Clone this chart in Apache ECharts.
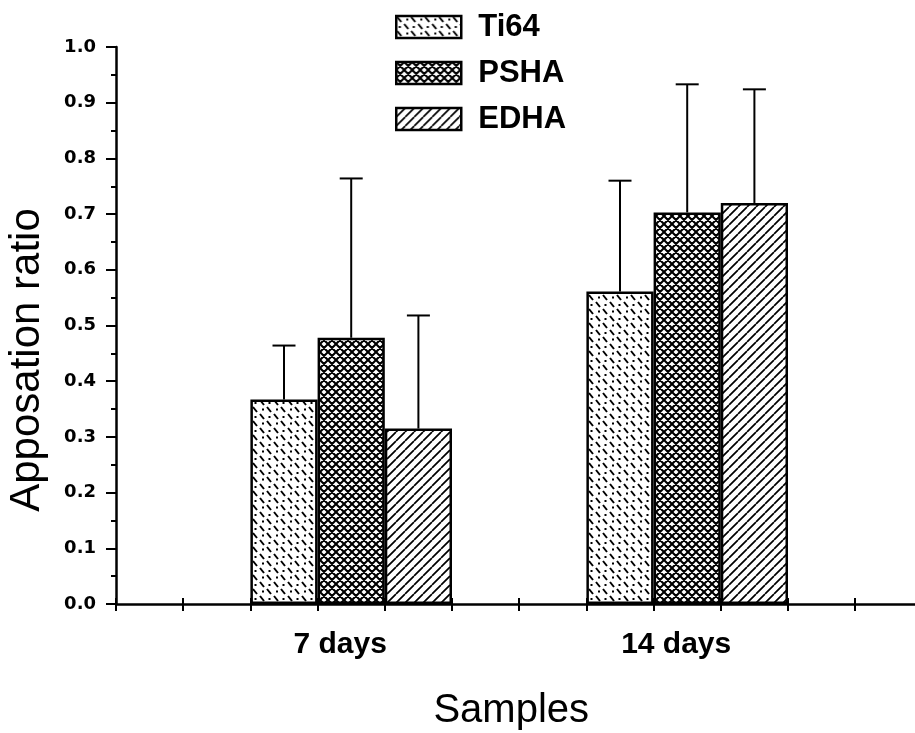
<!DOCTYPE html>
<html>
<head>
<meta charset="utf-8">
<script src="https://cdn.jsdelivr.net/npm/echarts@6/dist/echarts.min.js"></script>
<style>
  html, body { margin: 0; padding: 0; background: #fff; }
  #chart { width: 915px; height: 733px; }
</style>
</head>
<body>
<div id="chart"></div>
<script>
// Apposition ratio by implant surface, 7 and 14 days
const categories = ['7 days', '14 days'];
const seriesNames = ['Ti64', 'PSHA', 'EDHA'];
const ti64Values = [0.367, 0.561];
const ti64Errors = [0.097, 0.199];
const pshaValues = [0.478, 0.703];
const pshaErrors = [0.286, 0.230];
const edhaValues = [0.315, 0.720];
const edhaErrors = [0.203, 0.204];

const values = [ti64Values, pshaValues, edhaValues];
const errors = [ti64Errors, pshaErrors, edhaErrors];

// ---- hatch fills ----
function makeTile(size, draw) {
  const c = document.createElement('canvas');
  c.width = size; c.height = size;
  const ctx = c.getContext('2d');
  ctx.fillStyle = '#fff';
  ctx.fillRect(0, 0, size, size);
  ctx.strokeStyle = '#000';
  ctx.fillStyle = '#000';
  draw(ctx, size);
  return { image: c, repeat: 'repeat' };
}

// dashed back-slash strokes with scattered dots
const dashDot = makeTile(14, (ctx) => {
  ctx.lineWidth = 2;
  ctx.lineCap = 'butt';
  ctx.beginPath();
  ctx.moveTo(1, 1); ctx.lineTo(5, 6);
  ctx.moveTo(8, 8); ctx.lineTo(12, 13);
  ctx.stroke();
  ctx.fillRect(10, 2.5, 2, 2);
  ctx.fillRect(2.5, 10, 2, 2);
});

// diagonal cross-hatch
const crossHatch = makeTile(8, (ctx, s) => {
  ctx.lineWidth = 2.1;
  ctx.beginPath();
  for (let k = -1; k <= 1; k++) {
    ctx.moveTo(k * s, 0); ctx.lineTo(k * s + s, s);
    ctx.moveTo(k * s, s); ctx.lineTo(k * s + s, 0);
  }
  ctx.stroke();
});

// forward-slash hatch
const slashHatch = makeTile(9, (ctx, s) => {
  ctx.lineWidth = 1.7;
  ctx.beginPath();
  for (let k = -1; k <= 1; k++) {
    ctx.moveTo(k * s, s); ctx.lineTo(k * s + s, 0);
  }
  ctx.stroke();
});

const fills = [dashDot, crossHatch, slashHatch];

const chart = echarts.init(document.getElementById('chart'), null, { renderer: 'canvas' });

const BAR_GAP = 0.4; // fraction of each category band left empty

function errorBarSeries(idx) {
  return {
    type: 'custom',
    xAxisIndex: 2,
    yAxisIndex: 1,
    z: 5,
    silent: true,
    data: categories.map((c, i) => [i, values[idx][i], errors[idx][i]]),
    renderItem: function (params, api) {
      const cat = api.value(0);
      const v = api.value(1);
      const e = api.value(2);
      const band = api.size([1, 0])[0];
      const barW = band * (1 - BAR_GAP) / seriesNames.length;
      const off = (idx - (seriesNames.length - 1) / 2) * barW;
      const base = api.coord([cat, v]);
      const top = api.coord([cat, v + e]);
      const x = base[0] + off;
      const capHalf = 11.5;
      const st = { stroke: '#000', lineWidth: 2 };
      return {
        type: 'group',
        children: [
          { type: 'line', shape: { x1: x, y1: base[1], x2: x, y2: top[1] }, style: st },
          { type: 'line', shape: { x1: x - capHalf, y1: top[1], x2: x + capHalf, y2: top[1] }, style: st }
        ]
      };
    }
  };
}

const barSeries = seriesNames.map((name, i) => ({
  name: name,
  type: 'bar',
  xAxisIndex: 2,
  yAxisIndex: 1,
  data: values[i],
  barGap: '0%',
  barCategoryGap: (BAR_GAP * 100) + '%',
  itemStyle: { color: fills[i], borderColor: '#000', borderWidth: 2.5 },
  emphasis: { disabled: true }
}));

const tickFont = { fontFamily: 'DejaVu Sans', fontWeight: 'bold', fontSize: 18, color: '#000' };

const option = {
  backgroundColor: '#fff',
  animation: false,
  legend: {
    data: seriesNames,
    orient: 'vertical',
    left: 395,
    top: 9.5,
    padding: 0,
    itemWidth: 65,
    itemHeight: 22,
    itemGap: 11,
    icon: 'rect',
    itemStyle: { borderColor: '#000', borderWidth: 2.5 },
    textStyle: {
      fontFamily: 'Liberation Sans', fontWeight: 'bold', fontSize: 31,
      color: '#000', lineHeight: 31, padding: [4, 0, 0, 12]
    },
    selectedMode: false
  },
  grid: [
    { left: 116, right: -7.4, top: 47, bottom: 129, containLabel: false, outerBoundsMode: 'none' },
    { left: 183.2, width: 672, top: 47, bottom: 129, containLabel: false, outerBoundsMode: 'none' }
  ],
  xAxis: [
    {
      gridIndex: 0, type: 'value', position: 'bottom', min: 0, max: 12, interval: 1,
      axisLine: { show: true, onZero: false, lineStyle: { color: '#000', width: 2.5 } },
      axisTick: { show: true, inside: true, length: 6, lineStyle: { color: '#000', width: 2 } },
      axisLabel: { show: false },
      splitLine: { show: false },
      name: 'Samples',
      nameLocation: 'middle',
      nameGap: 87,
      nameTextStyle: { fontFamily: 'Liberation Sans', fontSize: 40, color: '#000', padding: [0, 16, 0, 0] }
    },
    {
      gridIndex: 0, type: 'value', position: 'bottom', min: 0, max: 12, interval: 1,
      axisLine: { show: false },
      axisTick: { show: true, inside: false, length: 7, lineStyle: { color: '#000', width: 2 } },
      axisLabel: { show: false },
      splitLine: { show: false }
    },
    {
      gridIndex: 1, type: 'category', position: 'bottom', data: categories,
      axisLine: { show: false },
      axisTick: { show: false },
      axisLabel: {
        margin: 26,
        fontFamily: 'Liberation Sans', fontWeight: 'bold', fontSize: 30, color: '#000',
        padding: [0, 22, 0, 0]
      },
      splitLine: { show: false }
    }
  ],
  yAxis: [
    {
      gridIndex: 0, type: 'value', min: 0, max: 1, interval: 0.1,
      axisLine: { show: true, lineStyle: { color: '#000', width: 2.5 } },
      axisTick: { show: true, inside: false, length: 10, lineStyle: { color: '#000', width: 2 } },
      minorTick: { show: true, splitNumber: 2, length: 5, lineStyle: { color: '#000', width: 2 } },
      axisLabel: Object.assign({ margin: 20, formatter: (v) => v.toFixed(1) }, tickFont),
      splitLine: { show: false },
      name: 'Apposation ratio',
      nameLocation: 'middle',
      nameRotate: 90,
      nameGap: 68,
      nameTextStyle: { fontFamily: 'Liberation Sans', fontSize: 42, color: '#000', padding: [0, 69, 0, 0] }
    },
    { gridIndex: 1, type: 'value', min: 0, max: 1, show: false }
  ],
  series: barSeries.concat(seriesNames.map((n, i) => errorBarSeries(i)))
};

chart.setOption(option);
</script>
</body>
</html>
